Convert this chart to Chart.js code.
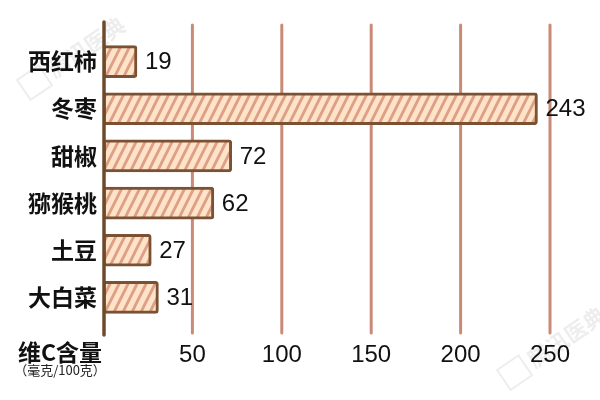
<!DOCTYPE html>
<html lang="zh">
<head>
    <meta charset="UTF-8">
    <title>维C含量</title>
    <script src="https://cdn.jsdelivr.net/npm/chart.js"></script>
    <style>
        html, body {
            margin: 0;
            padding: 0;
            background: #ffffff;
        }
        #wrap {
            width: 600px;
            height: 400px;
        }
    </style>
</head>
<body>
    <div id="wrap"><canvas id="myChart" width="600" height="400"></canvas></div>

    <script>
        const foods = ['西红柿', '冬枣', '甜椒', '猕猴桃', '土豆', '大白菜'];
        const vitaminC = [19, 243, 72, 62, 27, 31];
        const xTicks = [50, 100, 150, 200, 250];

        const numFont = '"Liberation Sans", Arial, "Noto Sans CJK SC", sans-serif';
        const cjkFont = '"Noto Sans CJK SC", "Liberation Sans", sans-serif';

        // steep diagonal hatch fill
        function makeHatch() {
            const w = 9, h = 18;
            const c = document.createElement('canvas');
            c.width = w;
            c.height = h;
            const g = c.getContext('2d');
            g.fillStyle = '#fde3c9';
            g.fillRect(0, 0, w, h);
            g.strokeStyle = '#dea084';
            g.lineWidth = 2.8;
            g.beginPath();
            g.moveTo(-1, h + 2); g.lineTo(w + 1, -2);
            g.moveTo(-w - 1, h + 2); g.lineTo(1, -2);
            g.moveTo(w - 1, h + 2); g.lineTo(2 * w + 1, -2);
            g.stroke();
            return g.createPattern(c, 'repeat');
        }

        function watermark(ctx, cx, cy) {
            ctx.save();
            ctx.translate(cx, cy);
            ctx.rotate(-0.6);
            ctx.fillStyle = 'rgba(0,0,0,0.07)';
            ctx.font = 'bold 22px ' + cjkFont;
            ctx.textAlign = 'left';
            ctx.textBaseline = 'middle';
            ctx.fillText('腾讯医典', -30, 0);
            ctx.strokeStyle = 'rgba(0,0,0,0.07)';
            ctx.lineWidth = 2;
            ctx.strokeRect(-62, -12, 26, 24);
            ctx.restore();
        }

        const decor = {
            id: 'decor',
            beforeDatasetsDraw(chart) {
                const ctx = chart.ctx;
                const x = chart.scales.x;
                watermark(ctx, 75, 55);
                watermark(ctx, 555, 345);
                ctx.save();
                ctx.strokeStyle = '#c98a76';
                ctx.lineWidth = 3;
                ctx.lineCap = 'round';
                xTicks.forEach(v => {
                    const px = x.getPixelForValue(v);
                    ctx.beginPath();
                    ctx.moveTo(px, 25);
                    ctx.lineTo(px, 333);
                    ctx.stroke();
                });
                ctx.restore();
            },
            afterDatasetsDraw(chart) {
                const ctx = chart.ctx;
                const x = chart.scales.x;
                ctx.save();
                // axis line
                ctx.strokeStyle = '#6e4a2c';
                ctx.lineWidth = 3.5;
                ctx.lineCap = 'round';
                const ax = x.getPixelForValue(0) + 1;
                ctx.beginPath();
                ctx.moveTo(ax, 22);
                ctx.lineTo(ax, 335);
                ctx.stroke();

                // values
                ctx.fillStyle = '#111111';
                ctx.font = '24px ' + numFont;
                ctx.textAlign = 'left';
                ctx.textBaseline = 'middle';
                chart.getDatasetMeta(0).data.forEach((bar, i) => {
                    ctx.fillText(String(vitaminC[i]), bar.x + 8, bar.y + 1);
                });

                // axis title
                ctx.textAlign = 'center';
                ctx.font = 'bold 23px ' + cjkFont;
                ctx.fillText('维C含量', 60, 352);
                ctx.font = '13px ' + cjkFont;
                ctx.fillStyle = '#222222';
                ctx.fillText('（毫克/100克）', 60, 370);
                ctx.restore();
            }
        };

        new Chart(document.getElementById('myChart'), {
            type: 'bar',
            data: {
                labels: foods,
                datasets: [{
                    data: vitaminC,
                    backgroundColor: makeHatch(),
                    borderColor: '#7a5132',
                    borderWidth: 3,
                    borderRadius: 3,
                    borderSkipped: false,
                    barThickness: 32
                }]
            },
            options: {
                indexAxis: 'y',
                responsive: false,
                animation: false,
                layout: { padding: { top: 38, right: 50, left: 0, bottom: 0 } },
                plugins: {
                    legend: { display: false },
                    tooltip: { enabled: false }
                },
                scales: {
                    x: {
                        min: 0,
                        max: 250,
                        grid: { display: false, drawTicks: false },
                        border: { display: false },
                        ticks: {
                            stepSize: 50,
                            padding: 20,
                            color: '#111111',
                            font: { size: 24, family: numFont },
                            callback: v => (v === 0 ? '' : v)
                        },
                        afterFit: s => { s.height = 79; }
                    },
                    y: {
                        grid: { display: false, drawTicks: false },
                        border: { display: false },
                        ticks: {
                            padding: 6,
                            color: '#111111',
                            font: { size: 23, weight: 'bold', family: cjkFont }
                        },
                        afterFit: s => { s.width = 103; }
                    }
                }
            },
            plugins: [decor]
        });
    </script>
</body>
</html>
